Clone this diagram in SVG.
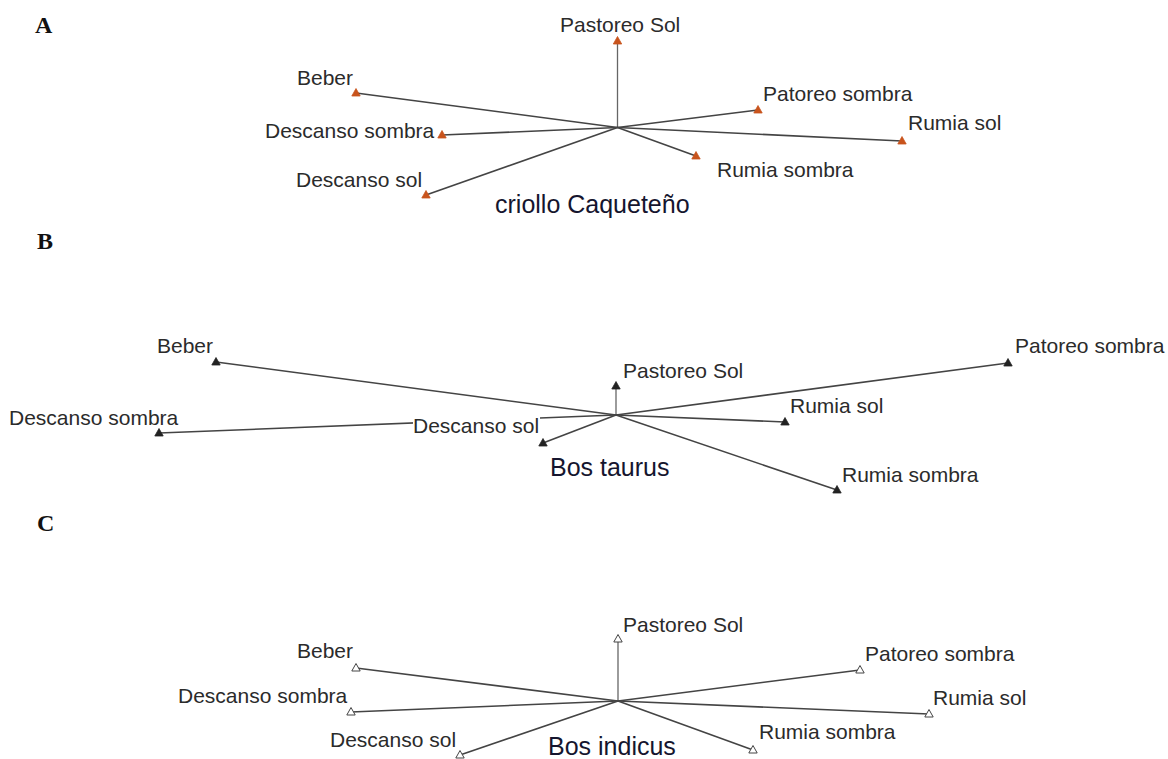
<svg xmlns="http://www.w3.org/2000/svg" xmlns:xlink="http://www.w3.org/1999/xlink" width="1168" height="759" viewBox="0 0 1168 759">
<style>
.lbl{font-family:"Liberation Sans",Arial,sans-serif;font-size:21px;fill:#2b2b2b}
.sp{font-family:"Liberation Sans",Arial,sans-serif;font-size:25px;fill:#15152e}
.pl{font-family:"Liberation Serif","Times New Roman",serif;font-size:24px;font-weight:bold;fill:#111}
.ln{stroke:#444;stroke-width:1.6;fill:none}
.lnv{stroke:#666;stroke-width:1.3;fill:none}
.tA{fill:#c8531c;stroke:#c8531c;stroke-width:0.8}
.tB{fill:#222;stroke:#222;stroke-width:0.8}
.tC{fill:#fff;stroke:#444;stroke-width:1}
</style>
<defs>
<path id="tri" d="M0,-4.5 L4.2,3 L-4.2,3 Z"/>
</defs>
<rect width="1168" height="759" fill="#fff"/>

<g id="panel-labels">
<text class="pl" x="35" y="33">A</text>
<text class="pl" x="37" y="249">B</text>
<text class="pl" x="37" y="531">C</text>
</g>

<g id="connectors">
<!-- A -->
<line class="lnv" x1="617.5" y1="127.5" x2="617.5" y2="41"/>
<line class="ln" x1="617.5" y1="127.5" x2="356" y2="93"/>
<line class="ln" x1="617.5" y1="127.5" x2="442" y2="135"/>
<line class="ln" x1="617.5" y1="127.5" x2="426" y2="195"/>
<line class="ln" x1="617.5" y1="127.5" x2="758" y2="110"/>
<line class="ln" x1="617.5" y1="127.5" x2="902" y2="141"/>
<line class="ln" x1="617.5" y1="127.5" x2="696" y2="156"/>
<!-- B -->
<line class="lnv" x1="616" y1="415" x2="616" y2="386"/>
<line class="ln" x1="616" y1="415" x2="216" y2="362"/>
<line class="ln" x1="616" y1="415" x2="159" y2="433"/>
<line class="ln" x1="616" y1="415" x2="543" y2="443"/>
<line class="ln" x1="616" y1="415" x2="1008" y2="363"/>
<line class="ln" x1="616" y1="415" x2="785" y2="422"/>
<line class="ln" x1="616" y1="415" x2="837" y2="490"/>
<!-- C -->
<line class="lnv" x1="618" y1="701" x2="618" y2="639"/>
<line class="ln" x1="618" y1="701" x2="356" y2="668"/>
<line class="ln" x1="618" y1="701" x2="351" y2="712"/>
<line class="ln" x1="618" y1="701" x2="460" y2="755"/>
<line class="ln" x1="618" y1="701" x2="860" y2="670"/>
<line class="ln" x1="618" y1="701" x2="929" y2="714"/>
<line class="ln" x1="618" y1="701" x2="753" y2="750"/>
</g>

<!-- Panel A nodes -->
<g id="A-pastoreo-sol"><use xlink:href="#tri" class="tA" x="617.5" y="41"/><text class="lbl" x="560" y="32">Pastoreo Sol</text></g>
<g id="A-beber"><use xlink:href="#tri" class="tA" x="356" y="93"/><text class="lbl" x="297" y="85">Beber</text></g>
<g id="A-descanso-sombra"><use xlink:href="#tri" class="tA" x="442" y="135"/><text class="lbl" x="265" y="138">Descanso sombra</text></g>
<g id="A-descanso-sol"><use xlink:href="#tri" class="tA" x="426" y="195"/><text class="lbl" x="296" y="187">Descanso sol</text></g>
<g id="A-patoreo-sombra"><use xlink:href="#tri" class="tA" x="758" y="110"/><text class="lbl" x="763" y="101">Patoreo sombra</text></g>
<g id="A-rumia-sol"><use xlink:href="#tri" class="tA" x="902" y="141"/><text class="lbl" x="908" y="130">Rumia sol</text></g>
<g id="A-rumia-sombra"><use xlink:href="#tri" class="tA" x="696" y="156"/><text class="lbl" x="717" y="177">Rumia sombra</text></g>
<g id="A-title"><text class="sp" x="495" y="213">criollo Caqueteño</text></g>

<!-- Panel B nodes -->
<g id="B-pastoreo-sol"><use xlink:href="#tri" class="tB" x="616" y="386"/><text class="lbl" x="623" y="378">Pastoreo Sol</text></g>
<g id="B-beber"><use xlink:href="#tri" class="tB" x="216" y="362"/><text class="lbl" x="157" y="353">Beber</text></g>
<g id="B-descanso-sombra"><use xlink:href="#tri" class="tB" x="159" y="433"/><text class="lbl" x="9" y="425">Descanso sombra</text></g>
<g id="B-descanso-sol"><use xlink:href="#tri" class="tB" x="543" y="443"/><rect x="413" y="416" width="127" height="19" fill="#fff"/><text class="lbl" x="413" y="433">Descanso sol</text></g>
<g id="B-patoreo-sombra"><use xlink:href="#tri" class="tB" x="1008" y="363"/><text class="lbl" x="1015" y="353">Patoreo sombra</text></g>
<g id="B-rumia-sol"><use xlink:href="#tri" class="tB" x="785" y="422"/><text class="lbl" x="790" y="413">Rumia sol</text></g>
<g id="B-rumia-sombra"><use xlink:href="#tri" class="tB" x="837" y="490"/><text class="lbl" x="842" y="482">Rumia sombra</text></g>
<g id="B-title"><text class="sp" x="550" y="476">Bos taurus</text></g>

<!-- Panel C nodes -->
<g id="C-pastoreo-sol"><use xlink:href="#tri" class="tC" x="618" y="639"/><text class="lbl" x="623" y="632">Pastoreo Sol</text></g>
<g id="C-beber"><use xlink:href="#tri" class="tC" x="356" y="668"/><text class="lbl" x="297" y="658">Beber</text></g>
<g id="C-descanso-sombra"><use xlink:href="#tri" class="tC" x="351" y="712"/><text class="lbl" x="178" y="703">Descanso sombra</text></g>
<g id="C-descanso-sol"><use xlink:href="#tri" class="tC" x="460" y="755"/><text class="lbl" x="330" y="747">Descanso sol</text></g>
<g id="C-patoreo-sombra"><use xlink:href="#tri" class="tC" x="860" y="670"/><text class="lbl" x="865" y="661">Patoreo sombra</text></g>
<g id="C-rumia-sol"><use xlink:href="#tri" class="tC" x="929" y="714"/><text class="lbl" x="933" y="705">Rumia sol</text></g>
<g id="C-rumia-sombra"><use xlink:href="#tri" class="tC" x="753" y="750"/><text class="lbl" x="759" y="739">Rumia sombra</text></g>
<g id="C-title"><text class="sp" x="548" y="755">Bos indicus</text></g>
</svg>
